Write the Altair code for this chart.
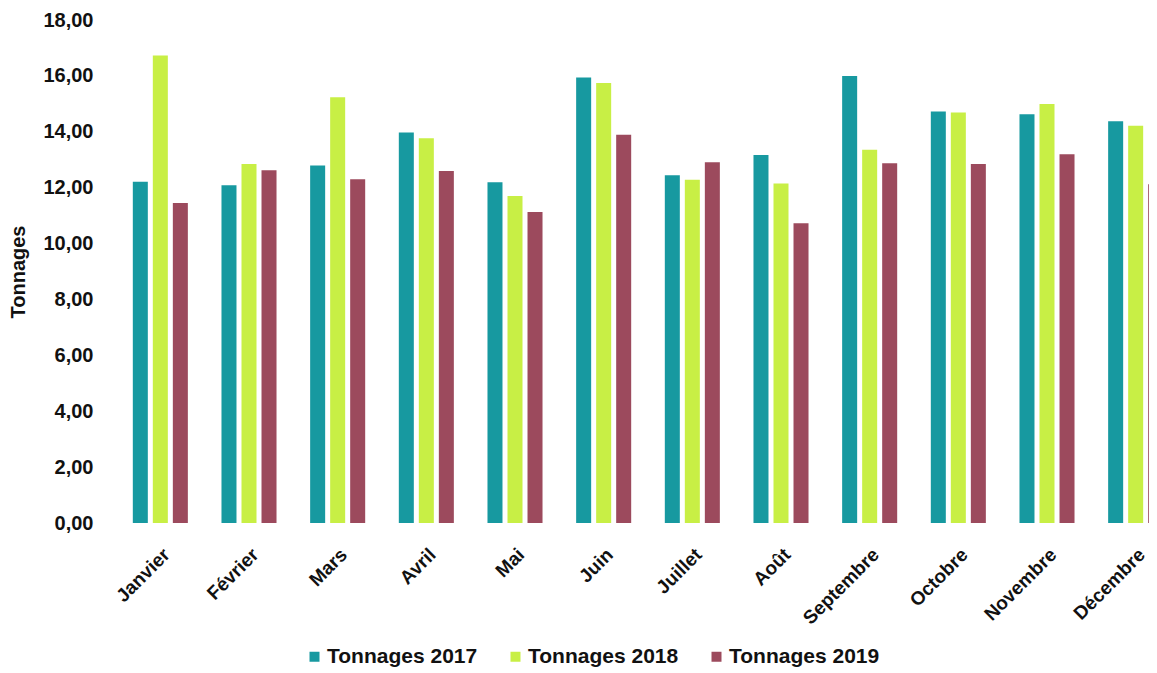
import altair as alt
import pandas as pd

months = ["Janvier", "Février", "Mars", "Avril", "Mai", "Juin", "Juillet",
          "Août", "Septembre", "Octobre", "Novembre", "Décembre"]
series = ["Tonnages 2017", "Tonnages 2018", "Tonnages 2019"]
t2017 = [12.21, 12.09, 12.79, 13.97, 12.19, 15.94, 12.44, 13.17, 16.00, 14.73, 14.63, 14.38]
t2018 = [16.73, 12.85, 15.24, 13.77, 11.70, 15.75, 12.28, 12.15, 13.36, 14.69, 14.99, 14.22]
t2019 = [11.45, 12.62, 12.30, 12.60, 11.13, 13.89, 12.91, 10.73, 12.87, 12.85, 13.20, 12.12]
colors = ["#1799a0", "#c8ef45", "#9c4a5d"]
y_ticks = [0, 2, 4, 6, 8, 10, 12, 14, 16, 18]

rows = []
for s, vals in zip(series, [t2017, t2018, t2019]):
    for m, v in zip(months, vals):
        rows.append({"Mois": m, "Série": s, "Valeur": v})
df = pd.DataFrame(rows)

FONT = "Liberation Sans"

chart = alt.Chart(df).mark_bar().encode(
    x=alt.X("Mois:N", sort=months, title=None,
            scale=alt.Scale(range=[0, 1064], paddingInner=0, paddingOuter=0),
            axis=alt.Axis(labelAngle=-45, labelFontSize=19, labelFontWeight="bold",
                          labelFont=FONT, labelColor="#111111", ticks=False,
                          domain=False, labelPadding=22)),
    xOffset=alt.XOffset("Série:N", sort=series,
                        scale=alt.Scale(paddingInner=0.25, paddingOuter=0.84)),
    y=alt.Y("Valeur:Q", title="Tonnages",
            scale=alt.Scale(domain=[0, 18], nice=False),
            axis=alt.Axis(values=y_ticks, grid=False, domain=False, ticks=False,
                          labelExpr="replace(format(datum.value, '.2f'), '.', ',')",
                          labelFontSize=20, labelFontWeight="bold", labelFont=FONT,
                          labelColor="#111111", labelPadding=23,
                          titleFontSize=20, titleFontWeight="bold", titleFont=FONT,
                          titleColor="#111111", titlePadding=14)),
    color=alt.Color("Série:N", sort=series,
                    scale=alt.Scale(domain=series, range=colors),
                    legend=alt.Legend(title=None, orient="none", direction="horizontal",
                                      legendX=188, legendY=626,
                                      symbolType="square", symbolSize=100,
                                      symbolStrokeWidth=0, labelFontSize=21,
                                      labelFontWeight="bold", labelFont=FONT,
                                      labelColor="#111111", labelOffset=2,
                                      columnPadding=27)),
).properties(
    width=1033,
    height=503,
    autosize=alt.AutoSizeParams(type="none"),
    padding={"left": 108, "top": 12, "right": 0, "bottom": 150},
).configure(background="white").configure_view(stroke=None)

chart.save("out.html", embed_options={"renderer": "svg", "actions": False})
